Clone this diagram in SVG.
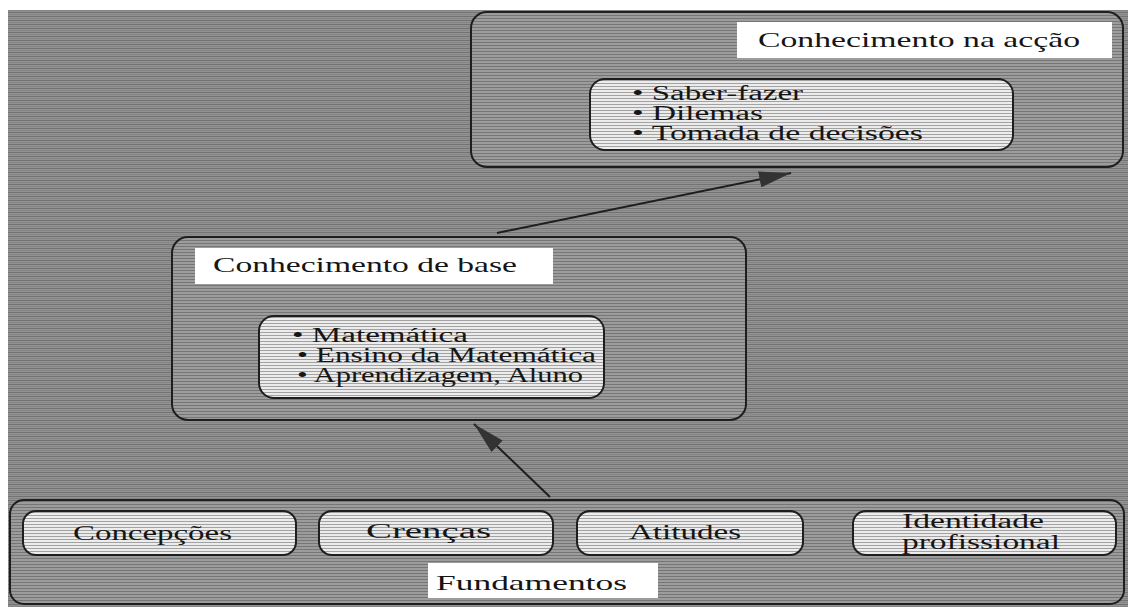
<svg xmlns="http://www.w3.org/2000/svg" width="1128" height="607" viewBox="0 0 1128 607">
<defs>
<pattern id="bgPat" width="4" height="4" patternUnits="userSpaceOnUse">
<rect width="4" height="4" fill="#929292"/>
<rect y="0" width="4" height="1" fill="#727272"/>
<rect y="2" width="4" height="1" fill="#858585"/>
</pattern>
<pattern id="boxPat" width="4" height="3" patternUnits="userSpaceOnUse">
<rect width="4" height="3" fill="#9c9c9c"/>
<rect y="0" width="4" height="1" fill="#767676"/>
</pattern>
<pattern id="lightPat" width="4" height="3" patternUnits="userSpaceOnUse">
<rect width="4" height="3" fill="#ececec"/>
<rect y="2" width="4" height="1" fill="#a2a2a2"/>
</pattern>
<marker id="arrowBig" viewBox="0 0 10 10" refX="10" refY="5" markerWidth="32" markerHeight="16" markerUnits="userSpaceOnUse" orient="auto" preserveAspectRatio="none">
<path d="M0,0 L10,5 L0,10 z" fill="#333333"/>
</marker>
</defs>
<style>
.outer{fill:url(#boxPat);stroke:#1e1e1e;stroke-width:2}
.inner{fill:url(#lightPat);stroke:#1e1e1e;stroke-width:2}
.label{fill:#ffffff;stroke:none}
text{font-family:"Liberation Serif","Times New Roman",serif;fill:#151515}
.t21{font-size:21px}
.t20{font-size:20px}
.conn{stroke:#1e1e1e;stroke-width:2;fill:none}
</style>
<rect x="0" y="0" width="1128" height="607" fill="#ffffff"/>
<rect x="8" y="10" width="1120" height="597" fill="url(#bgPat)"/>

<g id="conhecimento-na-accao">
<rect class="outer" x="471" y="12" width="652" height="155" rx="16"/>
<rect class="label" x="737" y="22" width="375" height="36"/>
<text class="t21" x="758" y="47" textLength="322" lengthAdjust="spacingAndGlyphs">Conhecimento na acção</text>
<rect class="inner" x="590" y="79" width="423" height="71" rx="15"/>
<text class="t20" x="632" y="100" textLength="171" lengthAdjust="spacingAndGlyphs">• Saber-fazer</text>
<text class="t20" x="632" y="120" textLength="131" lengthAdjust="spacingAndGlyphs">• Dilemas</text>
<text class="t20" x="632" y="140" textLength="291" lengthAdjust="spacingAndGlyphs">• Tomada de decisões</text>
</g>

<g id="conhecimento-de-base">
<rect class="outer" x="172" y="237" width="574" height="183" rx="16"/>
<rect class="label" x="195" y="248" width="358" height="36"/>
<text class="t21" x="213" y="272" textLength="304" lengthAdjust="spacingAndGlyphs">Conhecimento de base</text>
<rect class="inner" x="259" y="316" width="345" height="82" rx="15"/>
<text class="t20" x="292" y="342" textLength="176" lengthAdjust="spacingAndGlyphs">• Matemática</text>
<text class="t20" x="297" y="362" textLength="299" lengthAdjust="spacingAndGlyphs">• Ensino da Matemática</text>
<text class="t20" x="297" y="382" textLength="286" lengthAdjust="spacingAndGlyphs">• Aprendizagem, Aluno</text>
</g>

<g id="fundamentos">
<rect class="outer" x="10" y="500" width="1114" height="104" rx="14"/>
<rect class="label" x="428" y="563" width="230" height="35"/>
<text class="t21" x="436" y="590" textLength="191" lengthAdjust="spacingAndGlyphs">Fundamentos</text>
</g>

<g id="concepcoes">
<rect class="inner" x="23" y="511" width="273" height="44" rx="13"/>
<text class="t20" x="73" y="540" textLength="159" lengthAdjust="spacingAndGlyphs">Concepções</text>
</g>

<g id="crencas">
<rect class="inner" x="319" y="511" width="234" height="44" rx="13"/>
<text class="t20" x="366" y="538" textLength="125" lengthAdjust="spacingAndGlyphs">Crenças</text>
</g>

<g id="atitudes">
<rect class="inner" x="577" y="511" width="226" height="44" rx="13"/>
<text class="t20" x="629" y="539" textLength="112" lengthAdjust="spacingAndGlyphs">Atitudes</text>
</g>

<g id="identidade-profissional">
<rect class="inner" x="853" y="511" width="263" height="44" rx="13"/>
<text class="t20" x="902" y="528" textLength="142" lengthAdjust="spacingAndGlyphs">Identidade</text>
<text class="t20" x="902" y="549" textLength="158" lengthAdjust="spacingAndGlyphs">profissional</text>
</g>

<g id="connectors">
<line class="conn" x1="497" y1="233" x2="791" y2="173" marker-end="url(#arrowBig)"/>
<line class="conn" x1="550" y1="497" x2="474" y2="424" marker-end="url(#arrowBig)"/>
</g>
</svg>
